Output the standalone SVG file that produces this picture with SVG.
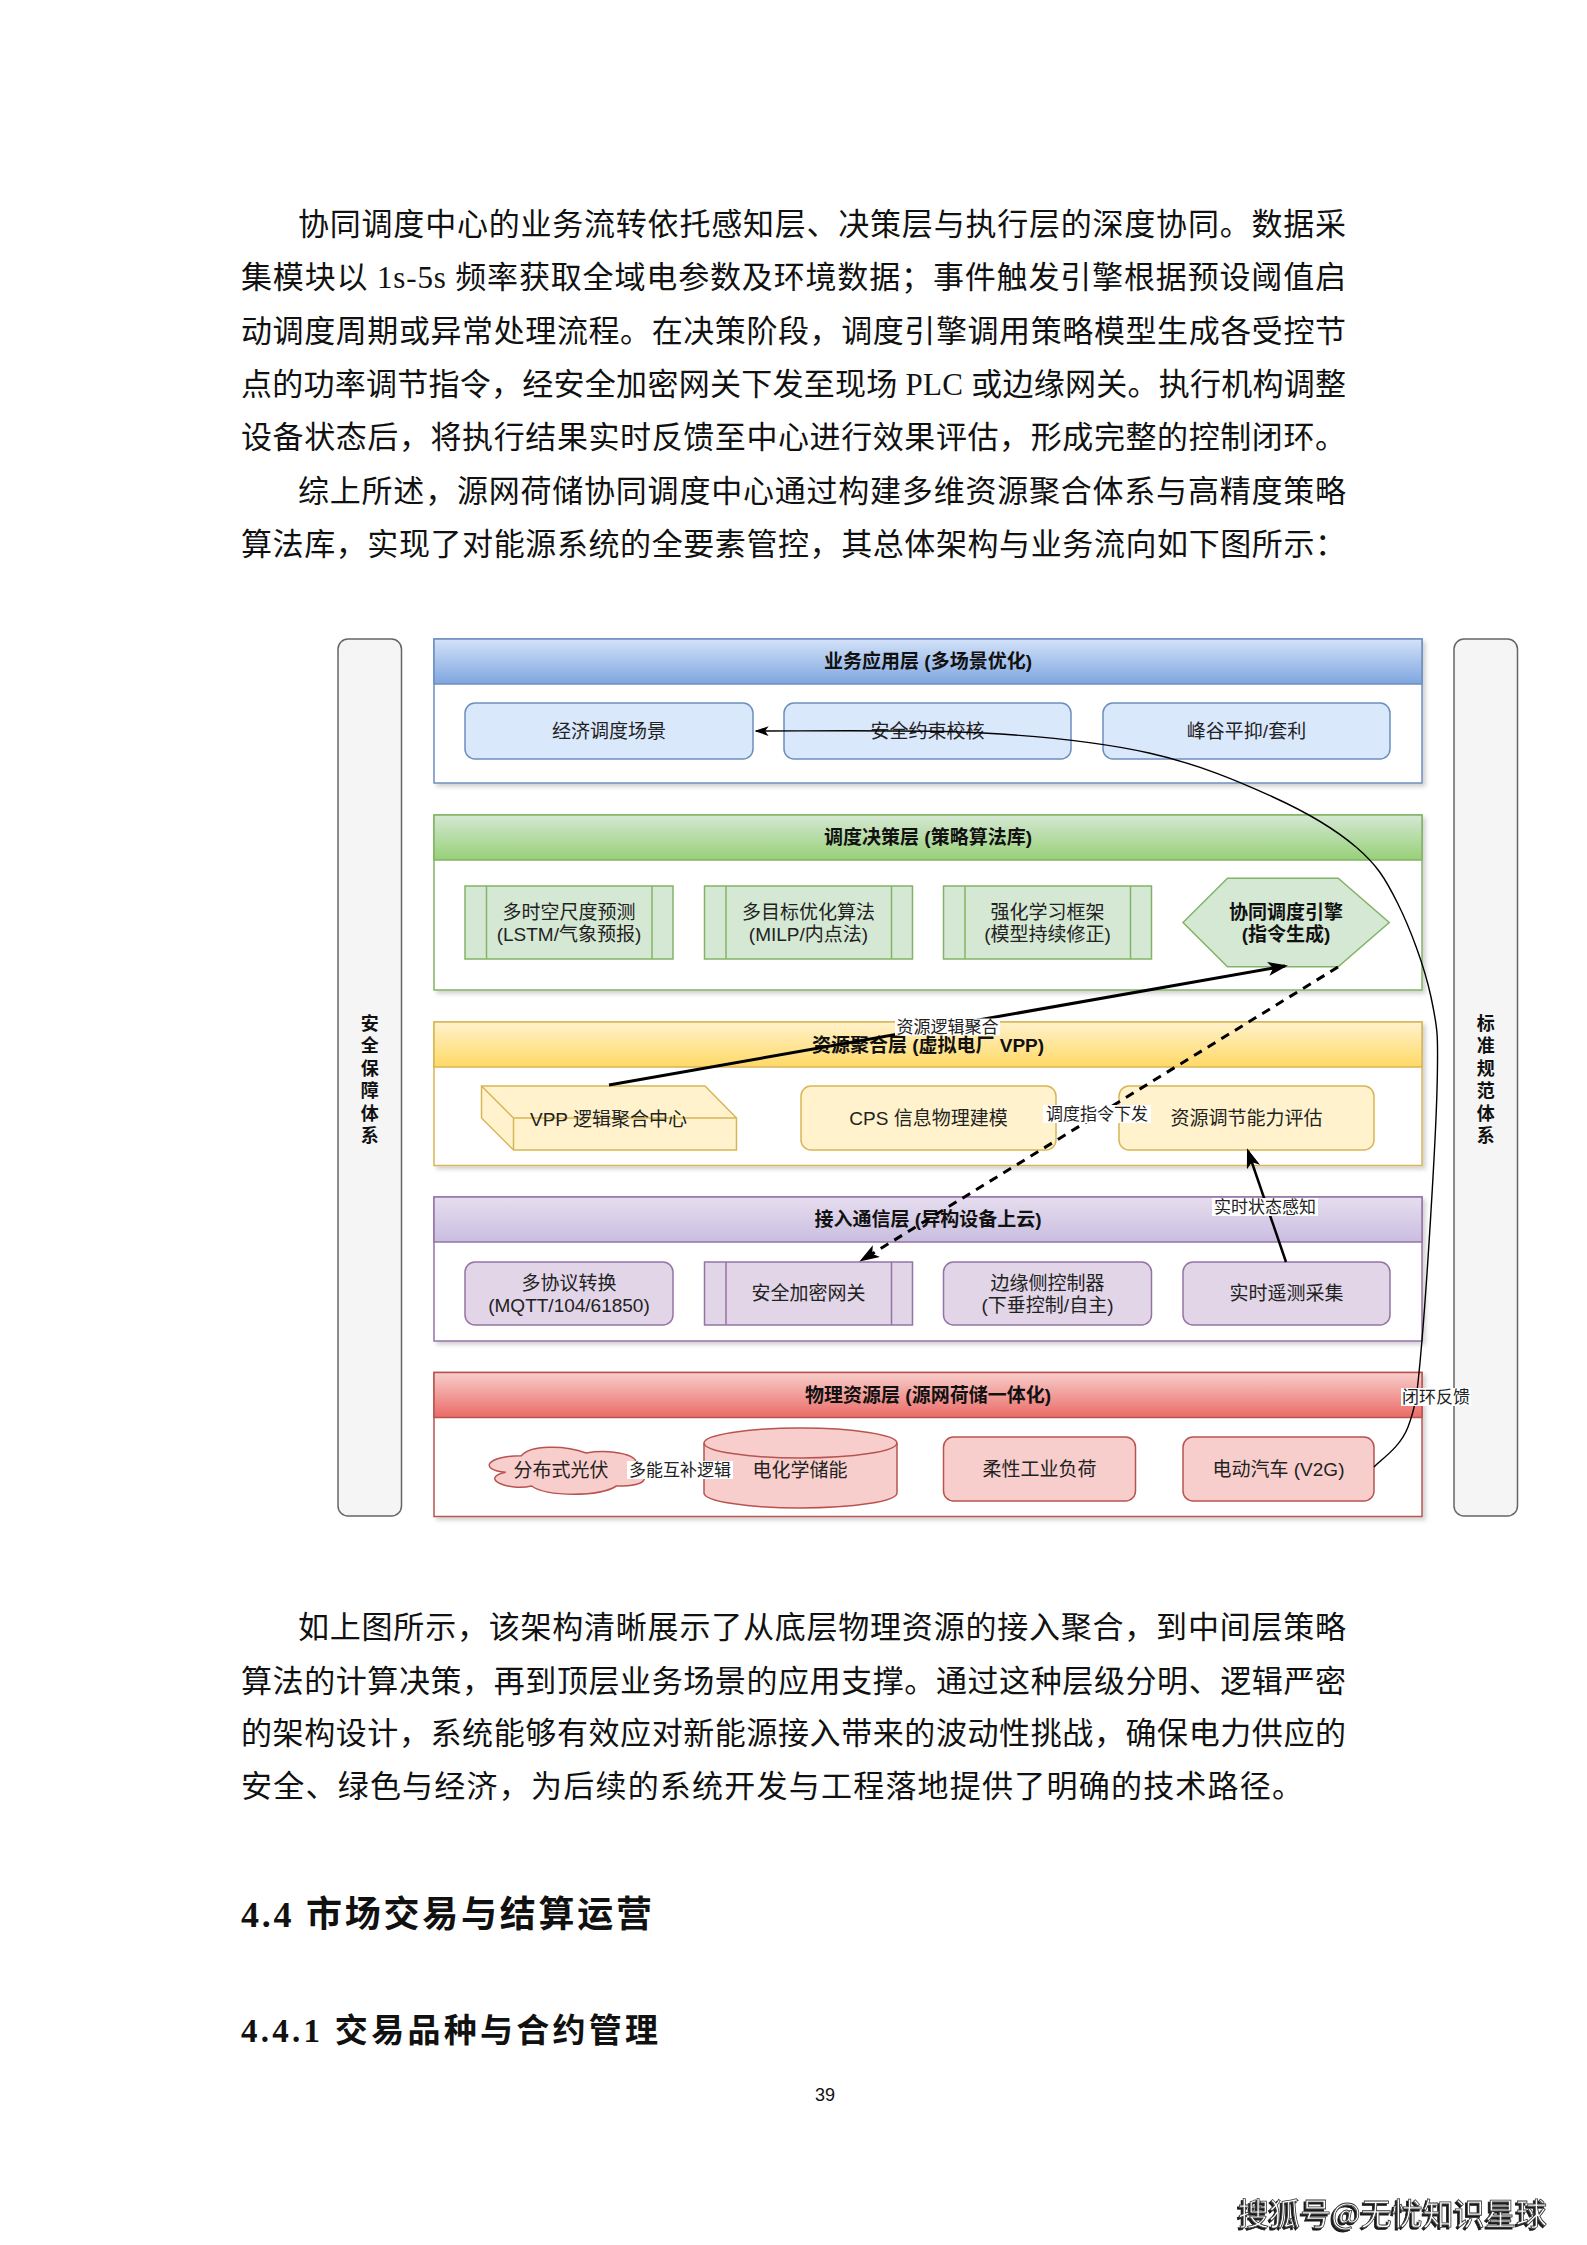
<svg xmlns="http://www.w3.org/2000/svg" width="1587" height="2245" viewBox="0 0 1587 2245">
<style>
.body{font-family:"Liberation Serif","Noto Sans CJK SC",serif;font-size:31px;fill:#111;dominant-baseline:central}
.h{font-family:"Liberation Serif","Noto Sans CJK SC",sans-serif;font-weight:bold;fill:#111;dominant-baseline:central}
.t{font-family:"Liberation Sans","Noto Sans CJK SC",sans-serif;font-size:19px;fill:#222;text-anchor:middle;dominant-baseline:central}
.hd{font-family:"Liberation Sans","Noto Sans CJK SC",sans-serif;font-size:19px;font-weight:bold;fill:#111;text-anchor:middle;dominant-baseline:central}
.lbl{font-family:"Liberation Sans","Noto Sans CJK SC",sans-serif;font-size:17px;fill:#222;text-anchor:middle;dominant-baseline:central}
.side{fill:#f5f5f5;stroke:#666;stroke-width:1.5}
.lay{fill:#fff;stroke-width:1.5}
.b{fill:#dae8fc;stroke:#6c8ebf;stroke-width:1.5}
.g{fill:#d5e8d4;stroke:#82b366;stroke-width:1.5}
.y{fill:#fff2cc;stroke:#d6b656;stroke-width:1.5}
.p{fill:#e1d5e7;stroke:#9673a6;stroke-width:1.5}
.r{fill:#f8cecc;stroke:#b85450;stroke-width:1.5}
.ln{fill:none;stroke-width:1.5}
.conn{fill:none;stroke:#000}
</style>
<defs>
<filter id="sh" x="-5%" y="-5%" width="110%" height="120%"><feDropShadow dx="3" dy="3" stdDeviation="2" flood-color="#000" flood-opacity="0.18"/></filter>
<filter id="wm" x="-5%" y="-20%" width="110%" height="140%"><feDropShadow dx="-2" dy="2" stdDeviation="0.6" flood-color="#000" flood-opacity="0.9"/></filter>
<linearGradient id="gb" x1="0" y1="0" x2="0" y2="1"><stop offset="0" stop-color="#d3e2f8"/><stop offset="1" stop-color="#7ea6e0"/></linearGradient>
<linearGradient id="gg" x1="0" y1="0" x2="0" y2="1"><stop offset="0" stop-color="#d5e8d4"/><stop offset="1" stop-color="#97d077"/></linearGradient>
<linearGradient id="gy" x1="0" y1="0" x2="0" y2="1"><stop offset="0" stop-color="#fff2cc"/><stop offset="1" stop-color="#ffd966"/></linearGradient>
<linearGradient id="gp" x1="0" y1="0" x2="0" y2="1"><stop offset="0" stop-color="#e6deef"/><stop offset="1" stop-color="#c9bde0"/></linearGradient>
<linearGradient id="gr" x1="0" y1="0" x2="0" y2="1"><stop offset="0" stop-color="#f8cecc"/><stop offset="1" stop-color="#ea6b66"/></linearGradient>
<marker id="ak" viewBox="0 0 20 14" refX="17" refY="7" markerWidth="20" markerHeight="14" markerUnits="userSpaceOnUse" orient="auto"><path d="M0,0 L20,7 L0,14 L5,7 Z" fill="#000"/></marker>
<marker id="at" viewBox="0 0 20 14" refX="18" refY="7" markerWidth="14" markerHeight="10" markerUnits="userSpaceOnUse" orient="auto"><path d="M0,0 L20,7 L0,14 L5,7 Z" fill="#000"/></marker>
</defs>
<rect width="1587" height="2245" fill="#fff"/>

<g id="text-top">
<text class="body" x="298" y="224" textLength="1048" lengthAdjust="spacing">协同调度中心的业务流转依托感知层、决策层与执行层的深度协同。数据采</text>
<text class="body" x="241" y="277.5" textLength="1105" lengthAdjust="spacing">集模块以 1s-5s 频率获取全域电参数及环境数据；事件触发引擎根据预设阈值启</text>
<text class="body" x="241" y="331" textLength="1105" lengthAdjust="spacing">动调度周期或异常处理流程。在决策阶段，调度引擎调用策略模型生成各受控节</text>
<text class="body" x="241" y="384" textLength="1105" lengthAdjust="spacing">点的功率调节指令，经安全加密网关下发至现场 PLC 或边缘网关。执行机构调整</text>
<text class="body" x="241" y="437.5" textLength="1105" lengthAdjust="spacing">设备状态后，将执行结果实时反馈至中心进行效果评估，形成完整的控制闭环。</text>
<text class="body" x="298" y="491" textLength="1048" lengthAdjust="spacing">综上所述，源网荷储协同调度中心通过构建多维资源聚合体系与高精度策略</text>
<text class="body" x="241" y="544" textLength="1105" lengthAdjust="spacing">算法库，实现了对能源系统的全要素管控，其总体架构与业务流向如下图所示：</text>
</g>

<g id="sidebars">
<g id="side-left"><rect class="side" x="338" y="639" width="63.5" height="877" rx="10"/>
<text class="hd" style="font-size:18px"><tspan x="369.8" y="1024">安</tspan><tspan x="369.8" y="1046.4">全</tspan><tspan x="369.8" y="1068.8">保</tspan><tspan x="369.8" y="1091.2">障</tspan><tspan x="369.8" y="1113.6">体</tspan><tspan x="369.8" y="1136">系</tspan></text></g>
<g id="side-right"><rect class="side" x="1454" y="639" width="63.5" height="877" rx="10"/>
<text class="hd" style="font-size:18px"><tspan x="1485.8" y="1024">标</tspan><tspan x="1485.8" y="1046.4">准</tspan><tspan x="1485.8" y="1068.8">规</tspan><tspan x="1485.8" y="1091.2">范</tspan><tspan x="1485.8" y="1113.6">体</tspan><tspan x="1485.8" y="1136">系</tspan></text></g>
</g>

<g id="layer-app">
<rect class="lay" x="434" y="639" width="988" height="144" stroke="#6c8ebf" filter="url(#sh)"/>
<rect x="434" y="639" width="988" height="45" fill="url(#gb)" stroke="#6c8ebf" stroke-width="1.5"/>
<text class="hd" x="928" y="661.5">业务应用层 (多场景优化)</text>
</g>
<g id="layer-decision">
<rect class="lay" x="434" y="815" width="988" height="175" stroke="#82b366" filter="url(#sh)"/>
<rect x="434" y="815" width="988" height="45" fill="url(#gg)" stroke="#82b366" stroke-width="1.5"/>
<text class="hd" x="928" y="837.5">调度决策层 (策略算法库)</text>
</g>
<g id="layer-vpp">
<rect class="lay" x="434" y="1022" width="988" height="143.5" stroke="#d6b656" filter="url(#sh)"/>
<rect x="434" y="1022" width="988" height="45" fill="url(#gy)" stroke="#d6b656" stroke-width="1.5"/>
<text class="hd" x="928" y="1045">资源聚合层 (虚拟电厂 VPP)</text>
</g>
<g id="layer-comm">
<rect class="lay" x="434" y="1197" width="988" height="144" stroke="#9673a6" filter="url(#sh)"/>
<rect x="434" y="1197" width="988" height="45" fill="url(#gp)" stroke="#9673a6" stroke-width="1.5"/>
<text class="hd" x="928" y="1219.5">接入通信层 (异构设备上云)</text>
</g>
<g id="layer-phys">
<rect class="lay" x="434" y="1372.5" width="988" height="144" stroke="#b85450" filter="url(#sh)"/>
<rect x="434" y="1372.5" width="988" height="45" fill="url(#gr)" stroke="#b85450" stroke-width="1.5"/>
<text class="hd" x="928" y="1395">物理资源层 (源网荷储一体化)</text>
</g>

<g id="n-econ"><rect class="b" x="465" y="703" width="288" height="56" rx="10"/><text class="t" x="609" y="731">经济调度场景</text></g>
<g id="n-safe"><rect class="b" x="784" y="703" width="287" height="56" rx="10"/><text class="t" x="927.5" y="731">安全约束校核</text></g>
<g id="n-peak"><rect class="b" x="1103" y="703" width="287" height="56" rx="10"/><text class="t" x="1246.5" y="731">峰谷平抑/套利</text></g>

<g id="n-forecast"><rect class="g" x="465" y="886" width="208" height="73"/><path class="ln" stroke="#82b366" d="M486.5,886 V959 M652,886 V959"/><text class="t"><tspan x="569" y="911.5">多时空尺度预测</tspan><tspan x="569" y="933.5">(LSTM/气象预报)</tspan></text></g>
<g id="n-milp"><rect class="g" x="704.5" y="886" width="208" height="73"/><path class="ln" stroke="#82b366" d="M726,886 V959 M891.5,886 V959"/><text class="t"><tspan x="808.5" y="911.5">多目标优化算法</tspan><tspan x="808.5" y="933.5">(MILP/内点法)</tspan></text></g>
<g id="n-rl"><rect class="g" x="943.5" y="886" width="208" height="73"/><path class="ln" stroke="#82b366" d="M965,886 V959 M1130.5,886 V959"/><text class="t"><tspan x="1047.5" y="911.5">强化学习框架</tspan><tspan x="1047.5" y="933.5">(模型持续修正)</tspan></text></g>
<g id="n-engine"><polygon class="g" points="1183,922.5 1227.5,878.3 1338.2,878.3 1389.2,922.5 1338.2,966.7 1227.5,966.7"/><text class="hd"><tspan x="1286" y="911.5">协同调度引擎</tspan><tspan x="1286" y="933.5">(指令生成)</tspan></text></g>

<g id="n-vpp"><path class="y" d="M481.5,1086 H705 L736.5,1118 V1150 H513.5 L481.5,1118 Z"/><path class="ln" stroke="#d6b656" d="M481.5,1086 L513.5,1118 V1150 M513.5,1118 H736.5"/><text class="t" x="608.5" y="1119">VPP 逻辑聚合中心</text></g>
<g id="n-cps"><rect class="y" x="801" y="1086" width="255" height="64" rx="10"/><text class="t" x="928.5" y="1118">CPS 信息物理建模</text></g>
<g id="n-eval"><rect class="y" x="1119" y="1086" width="255" height="64" rx="10"/><text class="t" x="1246.5" y="1118">资源调节能力评估</text></g>

<g id="n-proto"><rect class="p" x="465" y="1262" width="208" height="63" rx="10"/><text class="t"><tspan x="569" y="1282.5">多协议转换</tspan><tspan x="569" y="1304.5">(MQTT/104/61850)</tspan></text></g>
<g id="n-gw"><rect class="p" x="704.5" y="1262" width="208" height="63"/><path class="ln" stroke="#9673a6" d="M726,1262 V1325 M891.5,1262 V1325"/><text class="t" x="808.5" y="1293.5">安全加密网关</text></g>
<g id="n-edge"><rect class="p" x="943.5" y="1262" width="208" height="63" rx="10"/><text class="t"><tspan x="1047.5" y="1282.5">边缘侧控制器</tspan><tspan x="1047.5" y="1304.5">(下垂控制/自主)</tspan></text></g>
<g id="n-tele"><rect class="p" x="1183" y="1262" width="207" height="63" rx="10"/><text class="t" x="1286.5" y="1293.5">实时遥测采集</text></g>

<g id="n-pv"><path class="r" d="M521.3,1455.8 C486.7,1455.8 478,1469.5 505.7,1472.3 C478,1478.3 509.1,1491.5 531.6,1486 C547.2,1497 599.1,1497 616.4,1486 C651,1486 651,1475 629.4,1469.5 C651,1458.5 616.4,1447.5 586.1,1453 C564.5,1444.8 529.9,1444.8 521.3,1455.8 Z"/><text class="t" x="561" y="1470">分布式光伏</text></g>
<g id="n-bess"><path class="r" d="M704,1443 A96.5,15 0 0,1 897,1443 V1493 A96.5,15 0 0,1 704,1493 Z"/><path class="ln" stroke="#b85450" d="M704,1443 A96.5,15 0 0,0 897,1443"/><text class="t" x="800" y="1470">电化学储能</text></g>
<g id="n-load"><rect class="r" x="943.5" y="1437" width="192" height="64" rx="10"/><text class="t" x="1039.5" y="1469">柔性工业负荷</text></g>
<g id="n-ev"><rect class="r" x="1183" y="1437" width="191" height="64" rx="10"/><text class="t" x="1278.5" y="1469">电动汽车 (V2G)</text></g>

<g id="connectors">
<path class="conn" stroke-width="1.4" d="M1374,1467 C1379.7,1460.3 1400,1448.2 1408,1427 C1416,1405.8 1417.2,1396.2 1422,1340 C1426.8,1283.8 1435.5,1147.2 1437,1090 C1438.5,1032.8 1437.6,1028.2 1431,997 C1424.4,965.8 1410,928 1397.5,903 C1385,878 1376.8,864.7 1356,847 C1335.3,829.3 1307.5,812.7 1273,797 C1238.5,781.3 1197.3,763.7 1149,753 C1100.7,742.3 1048.5,736.7 983,733 C917.5,729.3 793.8,731.3 756,731" marker-end="url(#at)"/>
<path class="conn" stroke-width="3" d="M609,1085 L1285,966" marker-end="url(#ak)"/>
<path class="conn" stroke-width="3" stroke-dasharray="9,7" d="M1338,967 L862,1260" marker-end="url(#ak)"/>
<path class="conn" stroke-width="2.5" d="M1286,1262 L1248,1151" marker-end="url(#ak)"/>
<rect x="895" y="1018.5" width="105" height="17" fill="#fff"/><text class="lbl" x="947.5" y="1027">资源逻辑聚合</text>
<rect x="1043" y="1105" width="108" height="18" fill="#fff"/><text class="lbl" x="1097" y="1114">调度指令下发</text>
<rect x="1212" y="1198" width="106" height="18" fill="#fff"/><text class="lbl" x="1265" y="1207">实时状态感知</text>
<rect x="1401" y="1388" width="70" height="18" fill="#fff"/><text class="lbl" x="1436" y="1397">闭环反馈</text>
<rect x="627" y="1461" width="106" height="18" fill="#fff"/><text class="lbl" x="680" y="1470">多能互补逻辑</text>
</g>

<g id="text-bottom">
<text class="body" x="298" y="1627" textLength="1048" lengthAdjust="spacing">如上图所示，该架构清晰展示了从底层物理资源的接入聚合，到中间层策略</text>
<text class="body" x="241" y="1681" textLength="1105" lengthAdjust="spacing">算法的计算决策，再到顶层业务场景的应用支撑。通过这种层级分明、逻辑严密</text>
<text class="body" x="241" y="1733.5" textLength="1105" lengthAdjust="spacing">的架构设计，系统能够有效应对新能源接入带来的波动性挑战，确保电力供应的</text>
<text class="body" x="241" y="1786" textLength="1062" lengthAdjust="spacing">安全、绿色与经济，为后续的系统开发与工程落地提供了明确的技术路径。</text>
<text class="h" x="241" y="1915" style="font-size:36px" textLength="411" lengthAdjust="spacing">4.4 市场交易与结算运营</text>
<text class="h" x="241" y="2031" style="font-size:33px" textLength="417" lengthAdjust="spacing">4.4.1 交易品种与合约管理</text>
<text x="825" y="2095" style="font-family:'Liberation Sans',sans-serif;font-size:18px;fill:#111;text-anchor:middle;dominant-baseline:central">39</text>
<text x="1238" y="2211" filter="url(#wm)" style="font-family:'Noto Sans CJK SC',sans-serif;font-size:31px;fill:#fff;stroke:#333;stroke-width:0.8;dominant-baseline:central" textLength="309" lengthAdjust="spacing">搜狐号@无忧知识星球</text>
</g>
</svg>
